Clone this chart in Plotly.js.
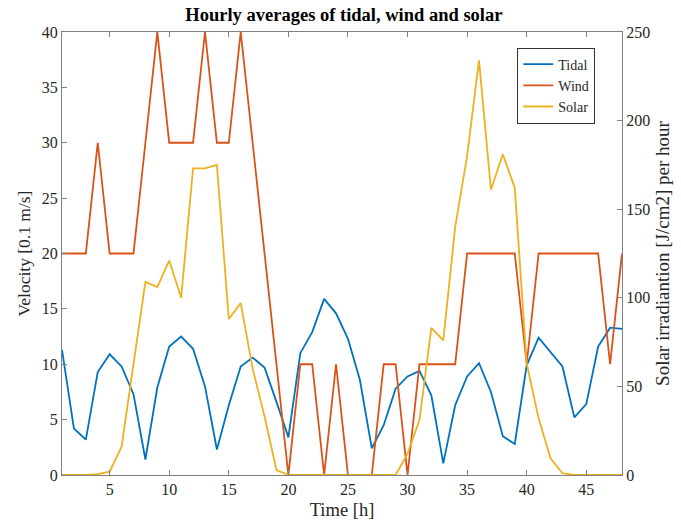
<!DOCTYPE html>
<html>
<head>
<meta charset="utf-8">
<script src="https://cdn.plot.ly/plotly-3.0.1.min.js"></script>
<style>html,body{margin:0;padding:0;background:#fff;}#chart{width:681px;height:525px;}</style>
</head>
<body>
<div id="chart"></div>
<script>
const hours = Array.from({length: 48}, (_, i) => i + 1);
const tidal = [11.3, 4.2, 3.2, 9.3, 10.9, 9.8, 7.3, 1.4, 7.9, 11.6, 12.5, 11.4,
               8.0, 2.3, 6.3, 9.8, 10.6, 9.7, 6.6, 3.4, 11.0, 12.9, 15.9, 14.6,
               12.3, 8.6, 2.4, 4.5, 7.8, 8.9, 9.4, 7.2, 1.05, 6.3, 8.9, 10.1,
               7.5, 3.5, 2.8, 9.9, 12.4, 11.1, 9.8, 5.2, 6.4, 11.6, 13.3, 13.2];
const wind = [20, 20, 20, 30, 20, 20, 20, 30, 40, 30, 30, 30,
              40, 30, 30, 40, 30, 20, 10, 0, 10, 10, 0, 10,
              0, 0, 0, 10, 10, 0, 10, 10, 10, 10, 20, 20,
              20, 20, 20, 10, 20, 20, 20, 20, 20, 20, 10, 20];
const solar = [0, 0, 0, 0.5, 1.9, 16, 62, 109, 106, 121, 100, 173,
               173, 175, 88, 97, 60, 33, 2.8, 0, 0, 0, 0, 0,
               0, 0, 0, 0, 0, 12, 31, 83, 76, 140, 180, 234,
               161, 181, 162, 63, 32, 9.4, 1, 0, 0, 0, 0, 0];

const fontFam = '"Liberation Serif", "Times New Roman", serif';
const axisCol = '#808080';
const textCol = '#262626';

const traces = [
  {x: hours, y: tidal, name: 'Tidal', type: 'scatter', mode: 'lines',
   line: {color: '#0072BD', width: 1.8}},
  {x: hours, y: wind, name: 'Wind', type: 'scatter', mode: 'lines',
   line: {color: '#D95319', width: 1.8}},
  {x: hours, y: solar, name: 'Solar', type: 'scatter', mode: 'lines', yaxis: 'y2',
   line: {color: '#EDB120', width: 1.8}}
];

const layout = {
  width: 681, height: 525,
  margin: {l: 62, r: 59, t: 32, b: 50},
  paper_bgcolor: '#fff', plot_bgcolor: '#fff',
  font: {family: fontFam, size: 16, color: textCol},
  title: {text: '<b>Hourly averages of tidal, wind and solar</b>', x: 0.505, xanchor: 'center',
          y: 0.973, yanchor: 'middle', font: {family: fontFam, size: 18.5, color: '#000'}},
  showlegend: true,
  legend: {x: 0.813, y: 0.965, xanchor: 'left', yanchor: 'top',
           bgcolor: '#fff', bordercolor: '#333', borderwidth: 1,
           font: {family: fontFam, size: 14, color: textCol},
           traceorder: 'normal'},
  xaxis: {range: [1, 48], tickvals: [5, 10, 15, 20, 25, 30, 35, 40, 45],
          ticks: 'inside', ticklen: 5, tickcolor: axisCol,
          showline: true, linecolor: axisCol, linewidth: 1, mirror: 'ticks',
          showgrid: false, zeroline: false,
          tickfont: {family: fontFam, size: 16, color: textCol},
          title: {text: 'Time [h]', standoff: 5, font: {family: fontFam, size: 18.5, color: textCol}}},
  yaxis: {range: [0, 40], tickvals: [0, 5, 10, 15, 20, 25, 30, 35, 40],
          ticks: 'inside', ticklen: 5, tickcolor: axisCol,
          showline: true, linecolor: axisCol, linewidth: 1,
          showgrid: false, zeroline: false,
          tickfont: {family: fontFam, size: 16, color: textCol},
          title: {text: 'Velocity [0.1 m/s]', standoff: 6, font: {family: fontFam, size: 17.5, color: textCol}}},
  yaxis2: {range: [0, 250], tickvals: [0, 50, 100, 150, 200, 250],
           overlaying: 'y', side: 'right',
           ticks: 'inside', ticklen: 5, tickcolor: axisCol,
           showline: true, linecolor: axisCol, linewidth: 1,
           showgrid: false, zeroline: false,
           tickfont: {family: fontFam, size: 16, color: textCol},
           title: {text: 'Solar irradiantion [J/cm2] per hour', standoff: 6, font: {family: fontFam, size: 19, color: textCol}}}
};

Plotly.newPlot('chart', traces, layout, {displayModeBar: false, staticPlot: true});
</script>
</body>
</html>
